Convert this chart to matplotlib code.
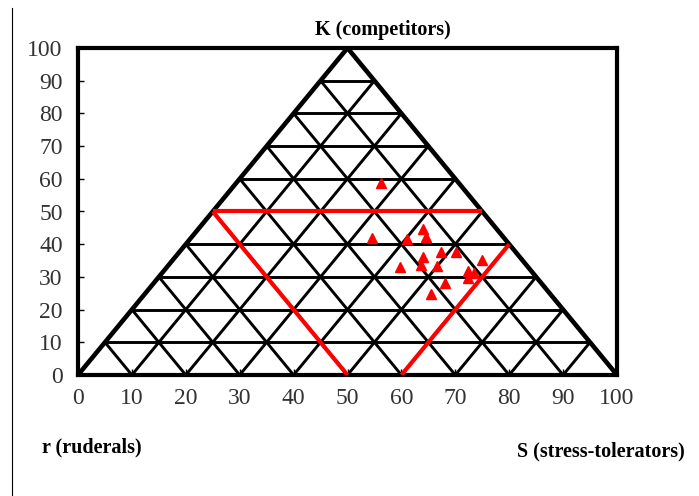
import matplotlib
matplotlib.use("Agg")
import matplotlib.pyplot as plt
from matplotlib.lines import Line2D
import numpy as np

# --- data ---
ticks = [0, 10, 20, 30, 40, 50, 60, 70, 80, 90, 100]
pts_x = [56.2, 54.6, 61.0, 64.1, 64.5, 67.3, 70.2, 64.1, 59.8, 63.6, 66.6,
         75.0, 72.3, 73.5, 72.3, 68.0, 65.5]
pts_y = [58.7, 41.8, 41.5, 44.6, 42.1, 37.5, 37.5, 36.0, 33.0, 33.6, 33.3,
         35.1, 31.7, 31.3, 29.6, 28.0, 24.9]
# red boundary segments (x, y)
red_x = [[25, 75], [25, 50], [60, 80]]
red_y = [[50, 50], [50, 0], [0, 40]]

plt.rcParams['font.family'] = ['Liberation Serif', 'DejaVu Serif']

fig = plt.figure(figsize=(6.99, 4.96), dpi=100)
ax = fig.add_axes([78 / 699, 121 / 496, 539 / 699, 327 / 496])

# triangle grid
for k in ticks[1:-1]:
    ax.plot([k / 2, 100 - k / 2], [k, k], color='black', lw=2.1, zorder=1)
    ax.plot([k, 50 + k / 2], [0, 100 - k], color='black', lw=2.1, zorder=1)
    ax.plot([k, k / 2], [0, k], color='black', lw=2.1, zorder=1)

# outer triangle
ax.plot([0, 50, 100], [0, 100, 0], color='black', lw=3.3, zorder=2,
        solid_joinstyle='miter')

# red region
for xs, ys in zip(red_x, red_y):
    ax.plot(xs, ys, color='red', lw=3, zorder=3, solid_capstyle='butt')

ax.plot(pts_x, pts_y, linestyle='none', marker='^', color='red', ms=6.5,
        zorder=4, clip_on=False)

ax.set_xlim(0, 100)
ax.set_ylim(0, 100)
ax.set_xticks(ticks)
ax.set_yticks(ticks)
for s in ax.spines.values():
    s.set_linewidth(3)
ax.tick_params(axis='both', direction='in', length=4, width=1,
               labelsize=17, colors='black', labelcolor='#333333')
ax.tick_params(axis='y', pad=11)
ax.tick_params(axis='x', pad=9)

fig.text(383 / 699, 1 - 30 / 496, 'K (competitors)', ha='center', va='center',
         fontsize=14.5, fontweight='bold')
fig.text(42 / 699, 1 - 447 / 496, 'r (ruderals)', ha='left', va='center',
         fontsize=14.5, fontweight='bold')
fig.text(685 / 699, 1 - 451 / 496, 'S (stress-tolerators)', ha='right',
         va='center', fontsize=14.5, fontweight='bold')

# thin frame line on the left
fig.add_artist(Line2D([12 / 699, 12 / 699], [0, 1 - 8 / 496],
                      color='black', lw=0.8))

fig.savefig('out.png', dpi=100)
